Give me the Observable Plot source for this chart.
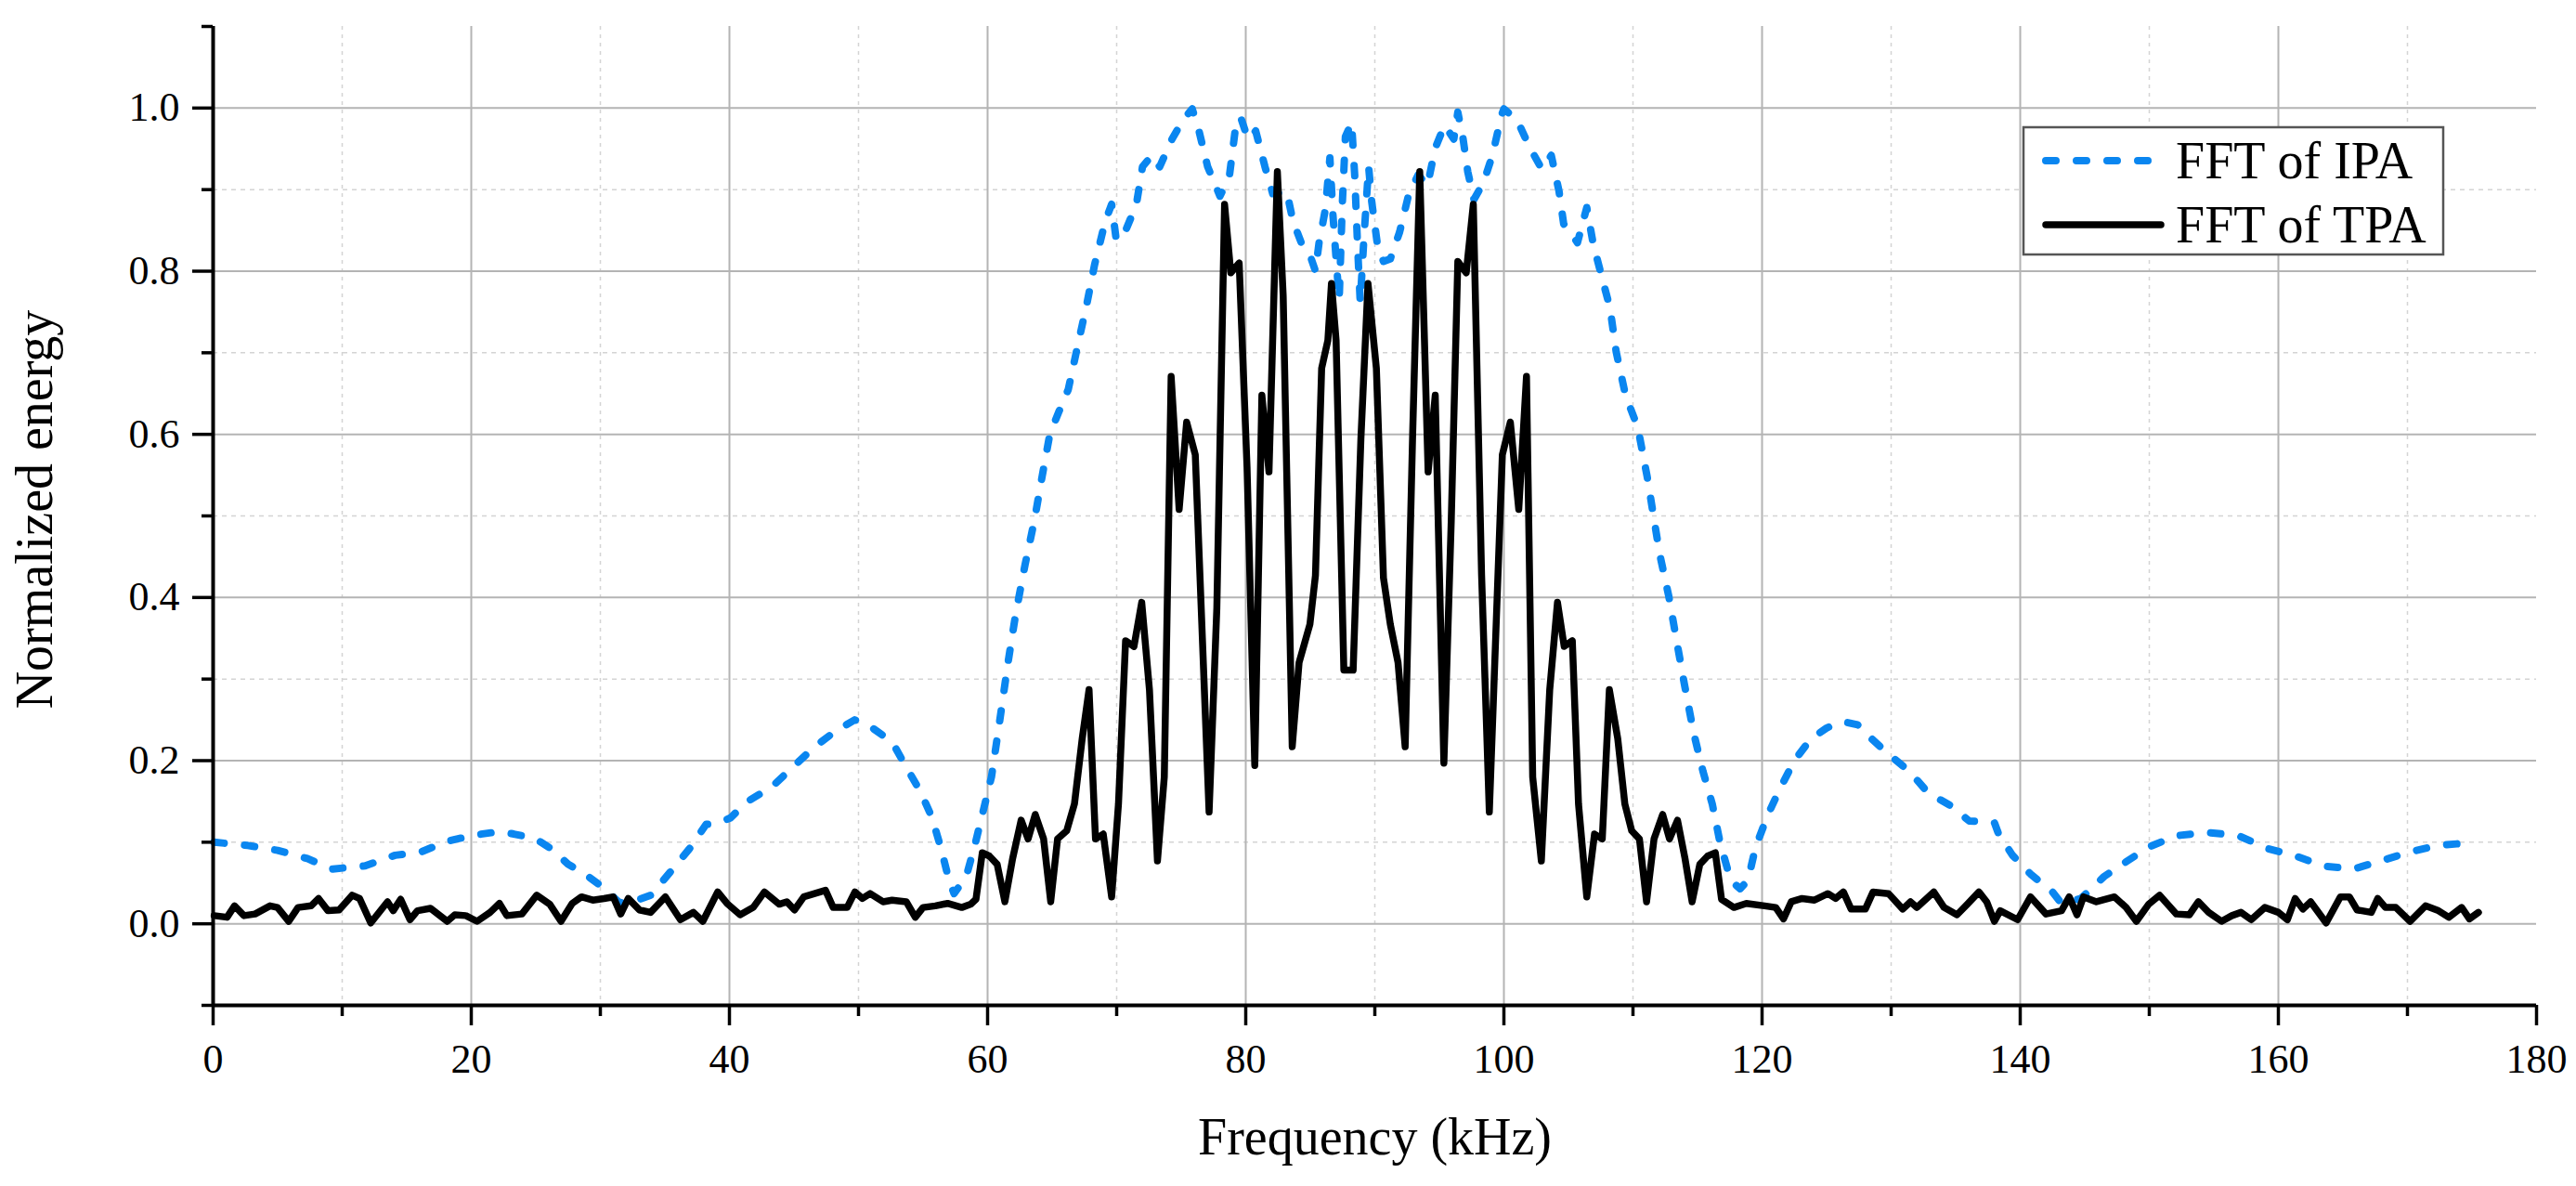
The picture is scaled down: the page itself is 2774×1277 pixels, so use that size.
<!DOCTYPE html>
<html><head><meta charset="utf-8">
<script src="https://cdn.jsdelivr.net/npm/d3@7"></script>
<script src="https://cdn.jsdelivr.net/npm/@observablehq/plot@0.6"></script>
<style>
html,body{margin:0;padding:0;background:#fff;}
#chart svg{display:block;}
g[aria-label$="axis tick"] path, g[aria-label$="axis tick"] line {stroke-width:3.5px;}
</style></head><body><div id="chart"></div>
<script>
const ipaFreq = [0.07,2.68,5.0,7.3,9.18,11.78,14.1,16.1,18.1,20.3,22.2,23.3,24.9,26.2,27.5,28.8,30.1,31.4,32.0,33.9,35.5,36.9,38.2,39.1,40.1,41.3,43.3,44.9,46.6,48.2,49.7,50.9,52.6,53.7,54.8,55.7,56.4,57.0,57.4,58.35,59.07,59.7,60.3,60.86,61.58,62.18,62.9,63.62,64.22,64.82,65.53,66.25,66.97,67.69,68.29,69.13,69.61,69.97,70.57,71.53,72.0,72.73,73.33,74.29,75.13,75.85,76.33,77.05,78.0,78.72,79.2,79.6,80.17,80.77,81.49,82.09,83.17,83.65,84.37,85.08,85.4,85.68,86.16,86.52,86.76,87.0,87.24,87.48,87.72,88.2,88.44,88.68,88.87,89.16,89.52,89.76,90.24,90.67,91.2,91.92,92.64,93.36,94.08,94.68,95.4,96.12,96.43,96.84,97.2,97.68,98.4,99.11,99.83,100.0,101.03,101.99,102.95,103.67,104.27,104.63,105.7,106.42,106.9,107.5,108.22,108.7,109.42,110.38,111.1,111.58,112.06,112.78,113.38,113.98,114.7,115.42,116.14,116.74,117.57,118.3,118.9,119.5,120.46,121.4,122.5,123.8,125.0,126.2,127.4,128.4,129.8,131.4,132.9,134.6,136.05,138.0,138.3,139.4,140.8,142.5,143.2,144.7,146.5,148.3,149.95,152.1,154.5,156.9,159.2,161.2,163.4,165.8,167.9,170.2,172.3,174.65,175.25];
const ipaVal = [0.1,0.096,0.09,0.08,0.067,0.071,0.084,0.088,0.101,0.109,0.113,0.11,0.105,0.092,0.073,0.061,0.046,0.027,0.024,0.035,0.065,0.092,0.122,0.123,0.13,0.149,0.168,0.192,0.217,0.236,0.25,0.242,0.223,0.192,0.162,0.13,0.092,0.054,0.037,0.058,0.1,0.141,0.18,0.24,0.32,0.38,0.44,0.494,0.548,0.6,0.628,0.655,0.708,0.76,0.808,0.862,0.882,0.838,0.845,0.882,0.928,0.942,0.928,0.962,0.985,0.999,0.975,0.928,0.892,0.915,0.975,0.989,0.962,0.972,0.928,0.895,0.898,0.862,0.832,0.815,0.8,0.835,0.875,0.939,0.868,0.815,0.765,0.882,0.965,0.982,0.918,0.825,0.762,0.842,0.928,0.885,0.828,0.812,0.815,0.848,0.895,0.918,0.905,0.951,0.979,0.962,0.995,0.962,0.922,0.888,0.908,0.942,0.992,0.999,0.985,0.952,0.925,0.942,0.898,0.858,0.835,0.878,0.835,0.798,0.755,0.701,0.648,0.608,0.548,0.501,0.454,0.401,0.347,0.294,0.234,0.187,0.147,0.1,0.053,0.043,0.053,0.094,0.134,0.166,0.2,0.227,0.24,0.248,0.244,0.228,0.208,0.187,0.16,0.145,0.126,0.124,0.111,0.084,0.061,0.039,0.025,0.031,0.058,0.077,0.094,0.108,0.112,0.108,0.092,0.084,0.071,0.067,0.077,0.088,0.096,0.099,0.099];
const tpaFreq = [0.08,1.08,1.66,2.39,3.25,4.41,4.99,5.86,6.58,7.59,8.17,8.9,9.76,10.77,11.35,12.21,13.51,13.95,14.53,15.25,15.83,16.84,18.14,18.72,19.58,20.45,21.46,22.18,22.76,23.92,25.07,26.08,26.95,27.82,28.54,29.41,30.28,31.0,31.58,32.16,33.02,33.89,35.04,36.2,37.21,37.94,39.09,39.81,40.83,41.84,42.71,43.86,44.44,45.04,45.76,46.6,47.44,48.04,49.12,49.72,50.3,50.9,51.9,52.6,53.7,54.4,55.0,55.95,56.9,58.0,58.7,59.1,59.59,60.14,60.74,61.34,61.94,62.6,63.14,63.69,64.34,64.89,65.42,66.13,66.73,67.33,67.86,68.36,68.96,69.61,70.14,70.69,71.34,71.94,72.54,73.16,73.69,74.22,74.84,75.42,76.09,77.16,77.76,78.36,78.84,79.49,80.1,80.7,81.25,81.8,82.45,82.9,83.6,84.13,84.97,85.4,85.88,86.36,86.64,87.0,87.6,88.32,88.92,89.47,90.12,90.67,91.2,91.8,92.35,92.93,93.48,94.13,94.68,95.35,95.92,96.43,97.08,97.63,98.27,98.87,99.88,100.5,101.15,101.75,102.23,102.9,103.55,104.15,104.67,105.3,105.78,106.42,107.02,107.62,108.17,108.82,109.37,109.9,110.5,111.05,111.63,112.3,112.83,113.45,114.03,114.58,115.18,115.78,116.38,116.86,117.82,118.78,120.2,121.06,121.66,122.26,123.1,124.06,125.1,125.7,126.3,126.9,128.0,128.6,129.8,130.9,131.5,132.0,133.3,134.1,135.1,135.9,136.8,137.4,138.0,138.45,139.8,140.8,142.0,143.2,143.8,144.4,144.9,145.9,147.3,148.2,149.0,149.95,150.8,152.1,153.1,153.8,154.6,155.6,156.4,157.1,157.9,158.95,160.0,160.7,161.3,161.9,162.5,163.7,164.8,165.5,166.1,167.2,167.7,168.3,169.1,170.2,171.4,172.4,173.2,174.2,174.8,175.5];
const tpaVal = [0.010,0.008,0.022,0.010,0.012,0.022,0.020,0.003,0.020,0.022,0.031,0.016,0.017,0.035,0.031,0.001,0.027,0.016,0.030,0.005,0.016,0.019,0.003,0.011,0.010,0.003,0.014,0.025,0.010,0.012,0.035,0.024,0.003,0.025,0.033,0.029,0.031,0.033,0.012,0.031,0.017,0.014,0.033,0.005,0.014,0.003,0.039,0.025,0.011,0.020,0.039,0.024,0.027,0.017,0.033,0.037,0.041,0.020,0.020,0.039,0.031,0.037,0.027,0.029,0.027,0.008,0.020,0.022,0.025,0.020,0.024,0.030,0.087,0.083,0.073,0.027,0.08,0.127,0.104,0.134,0.104,0.027,0.104,0.114,0.147,0.227,0.287,0.104,0.11,0.033,0.147,0.347,0.34,0.394,0.287,0.077,0.18,0.671,0.508,0.615,0.575,0.137,0.387,0.882,0.798,0.81,0.56,0.194,0.648,0.554,0.922,0.77,0.217,0.32,0.367,0.427,0.681,0.715,0.785,0.715,0.311,0.311,0.594,0.785,0.681,0.424,0.367,0.32,0.217,0.60,0.922,0.554,0.648,0.197,0.494,0.812,0.798,0.882,0.428,0.137,0.575,0.615,0.508,0.671,0.18,0.077,0.287,0.394,0.34,0.347,0.147,0.033,0.11,0.104,0.287,0.227,0.147,0.114,0.104,0.027,0.104,0.134,0.104,0.127,0.08,0.027,0.073,0.083,0.087,0.03,0.02,0.025,0.022,0.020,0.006,0.027,0.031,0.029,0.037,0.031,0.039,0.018,0.018,0.039,0.037,0.018,0.027,0.020,0.039,0.020,0.011,0.024,0.039,0.027,0.003,0.016,0.005,0.033,0.012,0.016,0.033,0.011,0.033,0.027,0.033,0.020,0.003,0.024,0.035,0.012,0.011,0.027,0.014,0.003,0.010,0.014,0.005,0.020,0.014,0.005,0.031,0.018,0.027,0.001,0.033,0.033,0.017,0.014,0.031,0.020,0.020,0.003,0.022,0.016,0.008,0.020,0.006,0.014];

const xMajorTicks = [0,20,40,60,80,100,120,140,160,180];
const xMinorTicks = [10,30,50,70,90,110,130,150,170];
const yMajorTicks = [0,0.2,0.4,0.6,0.8,1.0];
const yMinorTicks = [-0.1,0.1,0.3,0.5,0.7,0.9,1.1];
const seriesNames = ["FFT of IPA","FFT of TPA"];
const xLabel = "Frequency (kHz)";
const yLabel = "Normalized energy";

const BLUE = "#0a86f0";
const FONT = "'Liberation Serif','Times New Roman',serif";
const ipa = ipaFreq.map((f,i)=>({f, v: ipaVal[i]}));
const tpa = tpaFreq.map((f,i)=>({f, v: tpaVal[i]}));

const plot = Plot.plot({
  width: 2774, height: 1277,
  marginTop: 28, marginRight: 43, marginBottom: 195, marginLeft: 229,
  style: {fontFamily: FONT, background: "#fff", color: "#000"},
  x: {domain: [0,180]},
  y: {domain: [-0.1,1.1]},
  marks: [
    Plot.gridX(xMinorTicks, {stroke: "#d4d4d4", strokeOpacity: 1, strokeWidth: 1.5, strokeDasharray: "4,5"}),
    Plot.gridY(yMinorTicks.filter(d => d > 0 && d < 1), {stroke: "#d4d4d4", strokeOpacity: 1, strokeWidth: 1.5, strokeDasharray: "5,5"}),
    Plot.gridX(xMajorTicks.filter(d => d > 0 && d < 180), {stroke: "#b4b4b4", strokeOpacity: 1, strokeWidth: 2}),
    Plot.gridY(yMajorTicks, {stroke: "#b4b4b4", strokeOpacity: 1, strokeWidth: 2}),
    Plot.line(ipa, {x: "f", y: "v", stroke: BLUE, strokeWidth: 8, strokeDasharray: "11,22", strokeLinecap: "round", strokeLinejoin: "round"}),
    Plot.line(tpa, {x: "f", y: "v", stroke: "#000", strokeWidth: 7.5, strokeLinejoin: "round", strokeLinecap: "round"}),
    Plot.ruleX([0], {stroke: "#000", strokeWidth: 4}),
    Plot.ruleY([-0.1], {stroke: "#000", strokeWidth: 4}),
    Plot.axisX(xMajorTicks, {tickSize: 22, tickPadding: 19, fontSize: 44, label: null, tickFormat: d => String(d), strokeWidth: 3.5}),
    Plot.axisX(xMinorTicks, {tickSize: 12, tickFormat: () => "", label: null, strokeWidth: 3.5}),
    Plot.axisY(yMajorTicks, {tickSize: 22, tickPadding: 14, fontSize: 44, label: null, tickFormat: d3.format(".1f"), strokeWidth: 3.5}),
    Plot.axisY(yMinorTicks, {tickSize: 12, tickFormat: () => "", label: null, strokeWidth: 3.5}),
    Plot.text([xLabel], {frameAnchor: "bottom", dy: 143, fontSize: 56, lineAnchor: "middle", textAnchor: "middle"}),
    Plot.text([yLabel], {frameAnchor: "left", dx: -191, dy: -7, rotate: -90, fontSize: 56, lineAnchor: "middle", textAnchor: "middle"})
  ]
});

// legend
const svg = d3.select(plot);
const lg = svg.append("g").attr("font-family", FONT).attr("font-size", 56).attr("text-anchor", "start");
lg.append("rect").attr("x", 2179).attr("y", 137).attr("width", 452).attr("height", 137)
  .attr("fill", "#fff").attr("stroke", "#555").attr("stroke-width", 2.5);
lg.append("line").attr("x1", 2203).attr("x2", 2314).attr("y1", 173).attr("y2", 173)
  .attr("stroke", BLUE).attr("stroke-width", 8).attr("stroke-dasharray", "11,22").attr("stroke-linecap", "round");
lg.append("line").attr("x1", 2203).attr("x2", 2327).attr("y1", 242).attr("y2", 242)
  .attr("stroke", "#000").attr("stroke-width", 7.5).attr("stroke-linecap", "round");
lg.append("text").attr("x", 2343).attr("y", 192).attr("fill", "#000").text(seriesNames[0]);
lg.append("text").attr("x", 2343).attr("y", 261).attr("fill", "#000").text(seriesNames[1]);

document.getElementById("chart").appendChild(plot);
</script></body></html>
